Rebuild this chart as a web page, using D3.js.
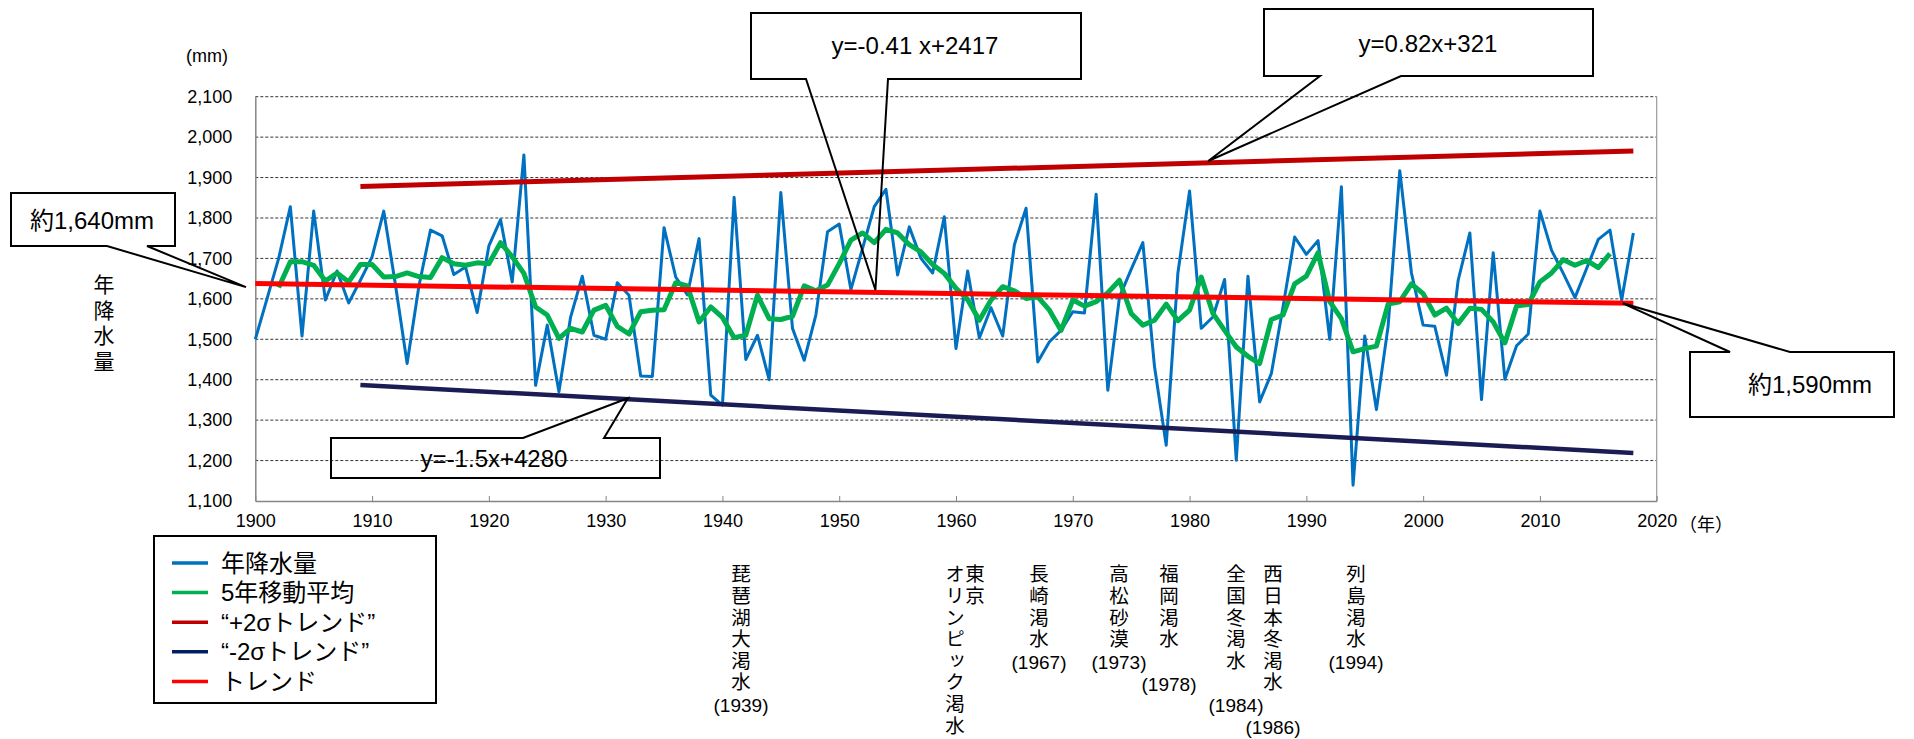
<!DOCTYPE html>
<html><head><meta charset="utf-8">
<script src="https://cdn.jsdelivr.net/npm/d3@7"></script>
<style>
body{margin:0;background:#fff;}
svg{display:block;font-family:"Liberation Sans",Arial,"Noto Sans CJK JP",sans-serif;}
.vt{writing-mode:vertical-rl;text-orientation:upright;font-family:"Noto Sans CJK JP";}
</style></head><body>
<svg id="c" width="1914" height="739"></svg>
<script>
// ---------------- data ----------------
const startYear = 1900;
const precipitation = [
1500,1600,1700,1828,1508,1817,1597,1669,1590,1646,
1704,1817,1635,1440,1630,1770,1756,1660,1679,1566,
1731,1796,1642,1956,1386,1535,1370,1555,1656,1510,
1500,1640,1609,1409,1408,1776,1654,1610,1749,1362,
1337,1851,1450,1510,1400,1863,1527,1448,1560,1766,
1785,1623,1725,1828,1871,1659,1778,1700,1664,1803,
1477,1669,1503,1578,1508,1734,1824,1444,1494,1522,
1568,1565,1859,1374,1605,1673,1739,1432,1238,1664,
1867,1527,1555,1648,1201,1656,1345,1415,1580,1753,
1710,1744,1500,1877,1139,1508,1326,1532,1917,1664,
1535,1532,1411,1646,1763,1351,1714,1401,1484,1513,
1817,1720,1663,1603,1675,1747,1770,1597,1763];
const maStartYear = 1902;
const movingAvg5 = [
1628,1692,1692,1683,1644,1664,1642,1685,
1685,1654,1655,1664,1655,1653,1702,1687,1683,1689,
1687,1739,1704,1663,1580,1560,1502,1527,1518,1572,
1584,1532,1513,1568,1572,1573,1640,1632,1543,1580,
1554,1504,1510,1609,1551,1549,1557,1632,1620,1634,
1687,1745,1763,1739,1772,1763,1734,1716,1685,1663,
1626,1598,1547,1597,1630,1620,1601,1605,1572,1522,
1597,1582,1593,1615,1646,1564,1535,1547,1587,1546,
1572,1654,1564,1522,1481,1458,1440,1549,1560,1637,
1656,1714,1593,1551,1469,1477,1483,1587,1593,1637,
1613,1560,1577,1539,1577,1574,1543,1491,1582,1586,
1642,1664,1697,1683,1695,1677,1712];
const trendYears = [1900, 2018];
const trendValues = [1638, 1589];
const plus2Years = [1909, 2018];
const plus2Values = [1878, 1966];
const minus2Years = [1909, 2018];
const minus2Values = [1387, 1219];
const yTicks = [1100,1200,1300,1400,1500,1600,1700,1800,1900,2000,2100];
const xTicks = [1900,1910,1920,1930,1940,1950,1960,1970,1980,1990,2000,2010,2020];
const legendLabels = ["年降水量","5年移動平均","\u201C+2σトレンド\u201D","\u201C-2σトレンド\u201D","トレンド"];
const calloutTexts = ["約1,640mm","y=-0.41 x+2417","y=0.82x+321","約1,590mm","y=-1.5x+4280"];
// callout tip points in data coords (year, mm)
const calloutTipYears = [1899.2, 1953.1, 1981.6, 2017.1, 1931.9];
const calloutTipValues = [1629, 1622, 1941, 1589, 1354];
const droughtNames = ["琵琶湖大渇水","オリンピック渇水","東京","長崎渇水","高松砂漠","福岡渇水","全国冬渇水","西日本冬渇水","列島渇水"];
const droughtYears = ["(1939)","","","(1967)","(1973)","(1978)","(1984)","(1986)","(1994)"];

// ---------------- layout ----------------
const colors = {blue:"#0070C0", green:"#00B050", dred:"#C00000", navy:"#1C1C54", red:"#FF0000"};
const svg = d3.select("#c");
const x = d3.scaleLinear().domain([1900, 2020]).range([255.3, 1656.7]);
const y = d3.scaleLinear().domain([1100, 2100]).range([501, 96.7]);

// gridlines
svg.append("g").selectAll("line").data(yTicks.filter(d => d > 1100)).join("line")
  .attr("x1", x(1900)).attr("x2", x(2020))
  .attr("y1", d => y(d)).attr("y2", d => y(d))
  .attr("stroke", "#333").attr("stroke-width", 1).attr("stroke-dasharray", "3,2");

// right edge of plot area
svg.append("line").attr("x1", x(2020)).attr("x2", x(2020)).attr("y1", y(2100)).attr("y2", y(1100))
  .attr("stroke", "#9a9a9a").attr("stroke-width", 1.2);

// axes
const xAxis = d3.axisBottom(x).tickValues(xTicks).tickFormat(d3.format("d")).tickSizeInner(-5).tickSizeOuter(0).tickPadding(13);
const gx = svg.append("g").attr("transform", `translate(0,${y(1100)})`).call(xAxis);
gx.select(".domain").attr("stroke", "#868686").attr("stroke-width", 1.5);
gx.selectAll(".tick line").attr("stroke", "#868686");
gx.selectAll("text").attr("font-size", 18).attr("fill", "#000").attr("font-family", "Liberation Sans, Arial");

const yAxis = d3.axisLeft(y).tickValues(yTicks).tickFormat(d3.format(",")).tickSize(0).tickPadding(23);
const gy = svg.append("g").attr("transform", `translate(${x(1900)},0)`).call(yAxis);
gy.select(".domain").attr("stroke", "#868686").attr("stroke-width", 1.5);
gy.selectAll("text").attr("font-size", 18).attr("fill", "#000").attr("font-family", "Liberation Sans, Arial");

svg.append("text").attr("x", 1679).attr("y", 531).attr("font-size", 18)
  .attr("font-family", "Noto Sans CJK JP").text("（年）");
svg.append("text").attr("x", 186).attr("y", 62).attr("font-size", 18).text("(mm)");

// helper: vertical text (one text element, vertical writing mode)
function vtext(g, str, cx, firstCenter, step, size) {
  return g.append("text").attr("class", "vt")
    .attr("x", cx).attr("y", firstCenter - size / 2)
    .attr("font-size", size)
    .style("letter-spacing", (step - size) + "px")
    .text(str);
}

// y title (vertical)
vtext(svg, "年降水量", 104, 284, 25.7, 21);

// series
const line = d3.line().x(d => x(d[0])).y(d => y(d[1]));
const blueData = precipitation.map((v, i) => [startYear + i, v]);
const greenData = movingAvg5.map((v, i) => [maStartYear + i, v]);
const plot = svg.append("g");
plot.append("path").datum(blueData).attr("d", line).attr("fill", "none")
  .attr("stroke", colors.blue).attr("stroke-width", 3).attr("stroke-linejoin", "round");
plot.append("path").datum(greenData).attr("d", line).attr("fill", "none")
  .attr("stroke", colors.green).attr("stroke-width", 5).attr("stroke-linejoin", "round");
plot.append("path").datum(plus2Years.map((yr, i) => [yr, plus2Values[i]])).attr("d", line)
  .attr("fill", "none").attr("stroke", colors.dred).attr("stroke-width", 5);
plot.append("path").datum(minus2Years.map((yr, i) => [yr, minus2Values[i]])).attr("d", line)
  .attr("fill", "none").attr("stroke", colors.navy).attr("stroke-width", 4.5);
plot.append("path").datum(trendYears.map((yr, i) => [yr, trendValues[i]])).attr("d", line)
  .attr("fill", "none").attr("stroke", colors.red).attr("stroke-width", 5);

// callouts: box [x0,y0,x1,y1], wedge side, wedge base x's, text position
const calloutLayout = [
  {box:[11,193,175,246], side:"bottom", base:[107,147], tx:92, ty:229},
  {box:[751,13,1081,79], side:"bottom", base:[806,888], tx:915, ty:54},
  {box:[1264,9,1593,76], side:"bottom", base:[1320,1401], tx:1428, ty:52},
  {box:[1690,352,1894,417], side:"top", base:[1730,1790], tx:1810, ty:393},
  {box:[331,438,660,478], side:"top", base:[523,604], tx:494, ty:467}
];
const cg = svg.append("g");
calloutLayout.forEach((c, i) => {
  const [x0, y0, x1, y1] = c.box;
  const tip = [x(calloutTipYears[i]), y(calloutTipValues[i])];
  let p;
  if (c.side === "bottom") {
    p = [[x0,y0],[x1,y0],[x1,y1],[c.base[1],y1],tip,[c.base[0],y1],[x0,y1]];
  } else {
    p = [[x0,y0],[c.base[0],y0],tip,[c.base[1],y0],[x1,y0],[x1,y1],[x0,y1]];
  }
  cg.append("path").attr("d", "M" + p.map(q => q.join(",")).join("L") + "Z")
    .attr("fill", "none").attr("stroke", "#000").attr("stroke-width", 2).attr("stroke-linejoin", "miter");
  cg.append("text").attr("x", c.tx).attr("y", c.ty).attr("text-anchor", "middle")
    .attr("font-size", 24).text(calloutTexts[i]);
});

// legend
const lg = svg.append("g");
lg.append("rect").attr("x", 154).attr("y", 536).attr("width", 282).attr("height", 167)
  .attr("fill", "#fff").attr("stroke", "#000").attr("stroke-width", 2);
const legendColors = [colors.blue, colors.green, colors.dred, "#002060", colors.red];
legendLabels.forEach((t, i) => {
  const yy = 563 + i * 29.6;
  lg.append("line").attr("x1", 172).attr("x2", 208).attr("y1", yy).attr("y2", yy)
    .attr("stroke", legendColors[i]).attr("stroke-width", 3.5);
  lg.append("text").attr("x", 221).attr("y", yy).attr("dominant-baseline", "central")
    .attr("font-size", 24).text(t);
});

// drought annotations (vertical text)
const droughtLayout = [
  {x:741, yearRow:6}, {x:955, yearRow:-1}, {x:975, yearRow:-1}, {x:1039, yearRow:4},
  {x:1119, yearRow:4}, {x:1169, yearRow:5}, {x:1236, yearRow:6}, {x:1273, yearRow:7}, {x:1356, yearRow:4}
];
const rowTop = 574, rowStep = 21.6;
const ag = svg.append("g");
droughtNames.forEach((name, i) => {
  const L = droughtLayout[i];
  vtext(ag, name, L.x, rowTop, rowStep, 19.5);
  if (droughtYears[i]) {
    ag.append("text").attr("x", L.x).attr("y", rowTop + L.yearRow * rowStep + 2).attr("text-anchor", "middle")
      .attr("dominant-baseline", "central").attr("font-size", 19).text(droughtYears[i]);
  }
});
</script>
</body></html>
